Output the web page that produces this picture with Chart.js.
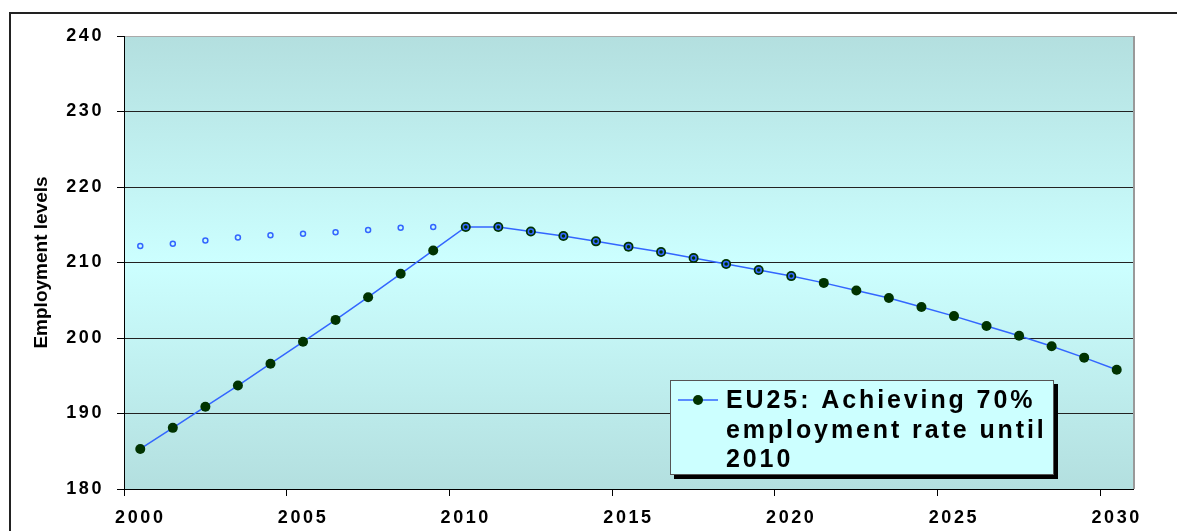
<!DOCTYPE html>
<html>
<head>
<meta charset="utf-8">
<script src="https://cdn.jsdelivr.net/npm/chart.js@4.4.0/dist/chart.umd.min.js"></script>
<style>
    html, body { margin: 0; padding: 0; background: #fff; overflow: hidden; }
    #frame { position: absolute; left: 9px; top: 12px; width: 1300px; height: 700px; border: 2px solid #222; }
    #chart { position: absolute; left: 0; top: 0; }
</style>
</head>
<body>
<div id="frame"></div>
<canvas id="chart" width="1177" height="531"></canvas>
<script>
// Categories (years)
const years = ['2000', '2001', '2002', '2003', '2004', '2005', '2006', '2007', '2008', '2009',
               '2010', '2011', '2012', '2013', '2014', '2015', '2016', '2017', '2018', '2019',
               '2020', '2021', '2022', '2023', '2024', '2025', '2026', '2027', '2028', '2029', '2030'];

// EU25: achieving 70% employment rate until 2010
const achievingValues = [185.3, 188.1, 190.9, 193.7, 196.6, 199.5, 202.4, 205.4, 208.5, 211.6,
                         214.7, 214.7, 214.1, 213.5, 212.8, 212.1, 211.4, 210.6, 209.8, 209.0,
                         208.2, 207.3, 206.3, 205.3, 204.1, 202.9, 201.6, 200.3, 198.9, 197.4, 195.8];

// second (unlabelled) series, markers only, up to 2020
const baselineValues = [212.2, 212.5, 212.9, 213.3, 213.6, 213.8, 214.0, 214.3, 214.6, 214.7,
                        214.7, 214.7, 214.1, 213.5, 212.8, 212.1, 211.4, 210.6, 209.8, 209.0,
                        208.2, null, null, null, null, null, null, null, null, null, null];

const yTicks = [180, 190, 200, 210, 220, 230, 240];
const legendLines = ['EU25: Achieving 70%', 'employment rate until', '2010'];

const FONT = '"Liberation Sans", Arial, sans-serif';
const LINE_BLUE = '#3366ff';
const DOT_GREEN = '#003300';

// gradient plot background, grey right border, letter spacing for tick labels
const plotBackground = {
    id: 'plotBackground',
    beforeDraw(chart) {
        const { ctx, chartArea: a } = chart;
        ctx.letterSpacing = '0px';
        const g = ctx.createLinearGradient(0, a.top, 0, a.bottom);
        g.addColorStop(0, '#b3dfdf');
        g.addColorStop(0.5, '#ccffff');
        g.addColorStop(1, '#b3dfdf');
        ctx.save();
        ctx.fillStyle = g;
        ctx.fillRect(a.left, a.top, a.right - a.left, a.bottom - a.top);
        ctx.restore();
    },
    beforeDatasetsDraw(chart) {
        const { ctx, chartArea: a } = chart;
        ctx.save();
        ctx.strokeStyle = '#999';
        ctx.lineWidth = 2;
        ctx.beginPath();
        ctx.moveTo(a.right + 1, a.top);
        ctx.lineTo(a.right + 1, a.bottom);
        ctx.stroke();
        ctx.restore();
    },
    afterDatasetsDraw(chart) {
        chart.ctx.letterSpacing = '2.6px';
    }
};

// boxed legend with shadow, inside the plot
const boxLegend = {
    id: 'boxLegend',
    afterDraw(chart) {
        const ctx = chart.ctx;
        const ds = chart.data.datasets[1];
        const x = 670, y = 380, w = 384, h = 95;
        ctx.save();
        ctx.fillStyle = '#000';
        ctx.fillRect(x + 4, y + 4, w, h);
        ctx.fillStyle = '#ccffff';
        ctx.fillRect(x, y, w, h);
        ctx.strokeStyle = '#555';
        ctx.lineWidth = 1;
        ctx.strokeRect(x + 0.5, y + 0.5, w - 1, h - 1);

        ctx.strokeStyle = ds.borderColor;
        ctx.lineWidth = 1.5;
        ctx.beginPath();
        ctx.moveTo(x + 8, y + 20);
        ctx.lineTo(x + 48, y + 20);
        ctx.stroke();
        ctx.fillStyle = ds.pointBackgroundColor;
        ctx.beginPath();
        ctx.arc(x + 28, y + 20, 5, 0, Math.PI * 2);
        ctx.fill();

        ctx.font = 'bold 25px ' + FONT;
        ctx.letterSpacing = '2.9px';
        ctx.fillStyle = '#000';
        ctx.textBaseline = 'alphabetic';
        ctx.textAlign = 'left';
        legendLines.forEach((t, i) => ctx.fillText(t, x + 56, y + 28 + i * 29.5));
        ctx.restore();
    }
};

const ctx = document.getElementById('chart').getContext('2d');

new Chart(ctx, {
    type: 'line',
    data: {
        labels: years,
        datasets: [{
            label: 'baseline',
            data: baselineValues,
            showLine: false,
            pointRadius: 2.5,
            pointBorderWidth: 1.5,
            pointBorderColor: LINE_BLUE,
            pointBackgroundColor: 'rgba(0,0,0,0)',
            order: 1
        }, {
            label: legendLines.join(' '),
            data: achievingValues,
            borderColor: LINE_BLUE,
            borderWidth: 1.5,
            tension: 0,
            pointRadius: 5,
            pointBorderWidth: 0,
            pointBackgroundColor: DOT_GREEN,
            pointBorderColor: DOT_GREEN,
            order: 2
        }]
    },
    options: {
        responsive: false,
        animation: false,
        devicePixelRatio: 1,
        layout: {
            padding: { left: 0, top: 36, right: 44, bottom: 0 }
        },
        plugins: {
            legend: { display: false },
            tooltip: { enabled: false }
        },
        scales: {
            x: {
                type: 'category',
                offset: true,
                afterFit: (scale) => { scale.height = 42; },
                grid: {
                    offset: true,
                    drawOnChartArea: false,
                    drawTicks: true,
                    tickLength: 7,
                    color: (c) => (c.index % 5 === 0 ? '#000' : 'rgba(0,0,0,0)')
                },
                border: { display: true, color: '#000', width: 1 },
                ticks: {
                    autoSkip: false,
                    maxRotation: 0,
                    minRotation: 0,
                    padding: 11,
                    z: 1,
                    color: '#000',
                    font: { family: FONT, size: 18, weight: 'bold' },
                    callback: function (value, index) {
                        return index % 5 === 0 ? this.getLabelForValue(value) : '';
                    }
                }
            },
            y: {
                min: yTicks[0],
                max: yTicks[yTicks.length - 1],
                afterFit: (scale) => { scale.width = 124; },
                afterBuildTicks: (scale) => { scale.ticks = yTicks.map(v => ({ value: v })); },
                grid: {
                    color: (c) => (c.tick && c.tick.value === 240 ? '#aaa' : '#222'),
                    lineWidth: 1,
                    tickLength: 7,
                    tickColor: '#000'
                },
                border: { display: true, color: '#000', width: 1 },
                ticks: {
                    padding: 13,
                    z: 1,
                    color: '#000',
                    font: { family: FONT, size: 18, weight: 'bold' }
                },
                title: {
                    display: true,
                    text: 'Employment levels',
                    color: '#000',
                    padding: { top: 30, bottom: 0 },
                    font: { family: FONT, size: 19, weight: 'bold' }
                }
            }
        }
    },
    plugins: [plotBackground, boxLegend]
});
</script>
</body>
</html>
